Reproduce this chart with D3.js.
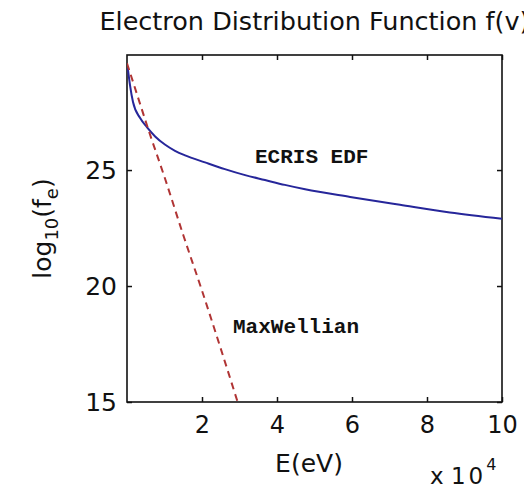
<!DOCTYPE html>
<html>
<head>
<meta charset="utf-8">
<script src="https://cdn.jsdelivr.net/npm/d3@7"></script>
<style>
  html, body { margin: 0; padding: 0; background: #fff; }
  svg { display: block; }
  text { font-family: "DejaVu Sans", "Liberation Sans", sans-serif; fill: #111; }
  .mono { font-family: "Liberation Mono", "DejaVu Sans Mono", monospace; }
</style>
</head>
<body>
<svg id="chart" width="524" height="488"></svg>
<script>
// Energy in eV
const ecrisEnergy = [200, 800, 1600, 3500, 5300, 7500, 10100, 12800, 15500, 20800, 26100, 31500, 36800, 42100, 47500, 59500, 72800, 86100, 100000];
const ecrisLogF   = [29.4, 28.66, 27.93, 27.24, 26.85, 26.45, 26.1, 25.83, 25.63, 25.33, 25.04, 24.78, 24.57, 24.36, 24.17, 23.84, 23.5, 23.17, 22.9];

const maxwellEnergy = [0, 2000, 6000, 10000, 15000, 20000, 25000, 29500];
const maxwellLogF   = [29.6, 28.6, 26.6, 24.7, 22.2, 19.8, 17.3, 15.0];

const xTicks = [20000, 40000, 60000, 80000, 100000];
const xTickLabels = ["2", "4", "6", "8", "10"];
const yTicks = [15, 20, 25];

const svg = d3.select("#chart");
const plot = { left: 127, right: 502, top: 55, bottom: 402 };

const x = d3.scaleLinear().domain([0, 100000]).range([plot.left, plot.right]);
const y = d3.scaleLinear().domain([15, 29.96]).range([plot.bottom, plot.top]);

// clip curves to the axes box
svg.append("defs").append("clipPath").attr("id", "clip")
  .append("rect")
  .attr("x", plot.left).attr("y", plot.top)
  .attr("width", plot.right - plot.left).attr("height", plot.bottom - plot.top);

const tickLen = 5;
const fmt = d => xTickLabels[xTicks.indexOf(d)];

// bottom axis with labels, ticks pointing inward
const xAxis = svg.append("g")
  .attr("transform", `translate(0,${plot.bottom})`)
  .call(d3.axisBottom(x).tickValues(xTicks).tickFormat(fmt).tickSizeInner(-tickLen).tickSizeOuter(0).tickPadding(14));
xAxis.selectAll("text").style("font-size", "24px").attr("dy", "0.71em");

// top mirror ticks
svg.append("g")
  .attr("transform", `translate(0,${plot.top})`)
  .call(d3.axisTop(x).tickValues(xTicks).tickFormat("").tickSizeInner(-tickLen).tickSizeOuter(0));

// left axis
const yAxis = svg.append("g")
  .attr("transform", `translate(${plot.left},0)`)
  .call(d3.axisLeft(y).tickValues(yTicks).tickSizeInner(-tickLen).tickSizeOuter(0).tickPadding(10));
yAxis.selectAll("text").style("font-size", "25px");

// right mirror ticks
svg.append("g")
  .attr("transform", `translate(${plot.right},0)`)
  .call(d3.axisRight(y).tickValues(yTicks).tickFormat("").tickSizeInner(-tickLen).tickSizeOuter(0));

svg.selectAll(".domain").remove();
svg.selectAll(".tick line").attr("stroke", "#111").attr("stroke-width", 1.5);

// axes box
svg.append("rect")
  .attr("x", plot.left).attr("y", plot.top)
  .attr("width", plot.right - plot.left).attr("height", plot.bottom - plot.top)
  .attr("fill", "none").attr("stroke", "#111").attr("stroke-width", 1.6);

// curves
const ecris = ecrisEnergy.map((e, i) => [e, ecrisLogF[i]]);
const maxwell = maxwellEnergy.map((e, i) => [e, maxwellLogF[i]]);

const line = d3.line().x(d => x(d[0])).y(d => y(d[1])).curve(d3.curveMonotoneX);

const curves = svg.append("g").attr("clip-path", "url(#clip)");
curves.append("path").datum(ecris)
  .attr("d", line).attr("fill", "none")
  .attr("stroke", "#26269a").attr("stroke-width", 2);
curves.append("path").datum(maxwell)
  .attr("d", line).attr("fill", "none")
  .attr("stroke", "#b03434").attr("stroke-width", 2)
  .attr("stroke-dasharray", "7,5");

// in-plot annotations
svg.append("text").attr("class", "mono")
  .attr("x", 255).attr("y", 163)
  .style("font-size", "21px").style("font-weight", "bold")
  .text("ECRIS EDF");
svg.append("text").attr("class", "mono")
  .attr("x", 233).attr("y", 333)
  .style("font-size", "21px").style("font-weight", "bold")
  .text("MaxWellian");

// title
svg.append("text")
  .attr("x", (plot.left + plot.right) / 2).attr("y", 30)
  .attr("text-anchor", "middle")
  .style("font-size", "25.5px")
  .text("Electron Distribution Function f(v)");

// x label
svg.append("text")
  .attr("x", 309).attr("y", 472)
  .attr("text-anchor", "middle")
  .style("font-size", "25px")
  .text("E(eV)");

// exponent multiplier
const mult = svg.append("text").attr("x", 430).attr("y", 484).style("font-size", "23px");
mult.append("tspan").text("x ");
mult.append("tspan").style("letter-spacing", "3px").text("10");
mult.append("tspan").attr("dy", -14).style("font-size", "16px").text("4");

// y label
const yl = svg.append("text")
  .attr("transform", `translate(51,${(plot.top + plot.bottom) / 2}) rotate(-90)`)
  .attr("text-anchor", "middle")
  .style("font-size", "25px");
yl.append("tspan").text("log");
yl.append("tspan").attr("dy", 7).style("font-size", "18px").text("10");
yl.append("tspan").attr("dy", -7).text("(f");
yl.append("tspan").attr("dy", 7).style("font-size", "18px").text("e");
yl.append("tspan").attr("dy", -7).text(")");
</script>
</body>
</html>
